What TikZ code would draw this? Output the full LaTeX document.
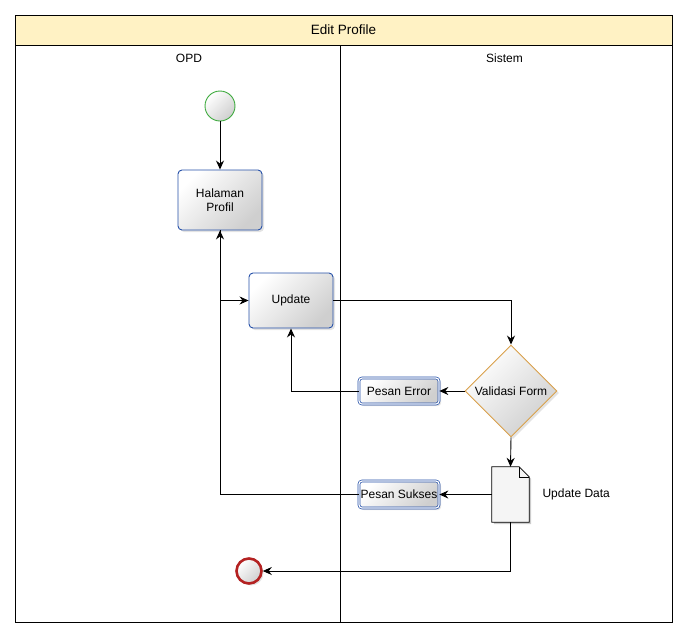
\documentclass[tikz,border=0pt]{standalone}
\usepackage{fontspec}
\setmainfont{Liberation Sans}
\usetikzlibrary{shapes.geometric,arrows.meta,shadows}

\definecolor{titlebg}{HTML}{FFF2C4}
\definecolor{taskblue}{HTML}{2550A8}
\definecolor{gatewayorange}{HTML}{D9A04A}
\definecolor{startgreen}{HTML}{3DAA3D}
\definecolor{endred}{HTML}{B42222}

\tikzset{
  softshadow/.style={drop shadow={opacity=0.22, shadow xshift=2pt, shadow yshift=-2pt}},
  shaded/.style={top color=white, bottom color=black!19, shading angle=45},
  nodefont/.style={font=\fontsize{12}{14}\selectfont},
  task/.style={rectangle, rounded corners=4pt, draw=taskblue, line width=0.9pt,
    shaded, softshadow, align=center, nodefont, inner sep=0pt},
  msg/.style={rectangle, rounded corners=3pt, draw=taskblue, line width=0.7pt,
    double=white, double distance=1.2pt, shaded, softshadow, nodefont, inner sep=0pt},
  gateway/.style={diamond, aspect=1, draw=gatewayorange, line width=0.9pt,
    shaded, softshadow, inner sep=0pt, minimum size=92pt, nodefont},
  startev/.style={circle, draw=startgreen, line width=0.9pt, shaded, minimum size=30pt, inner sep=0pt},
  endev/.style={circle, draw=endred, line width=2.6pt, shaded, softshadow, minimum size=25pt, inner sep=0pt},
  flow/.style={draw=black, line width=0.9pt, -{Stealth[length=9pt, width=8pt, inset=3pt]}},
  lanelabel/.style={font=\fontsize{12}{14}\selectfont}
}

\begin{document}
\begin{tikzpicture}[x=1pt, y=-1pt]
  \useasboundingbox (0,0) rectangle (689,638);

  % pool with title bar and two lanes
  \fill[titlebg] (15,15) rectangle (672,45);
  \draw[line width=0.8pt] (15,15) rectangle (672,622);
  \draw[line width=0.8pt] (15,45) -- (672,45);
  \draw[line width=0.8pt] (340,45) -- (340,622);
  \node[font=\fontsize{13.5}{15}\selectfont] (pooltitle) at (343.5,30) {Edit Profile};
  \node[lanelabel] (laneopd) at (189,58) {OPD};
  \node[lanelabel] (lanesys) at (504.5,58) {Sistem};

  % events, tasks and gateway
  \node[startev] (start) at (220,106) {};
  \node[task, minimum width=84pt, minimum height=60pt] (halaman) at (220,200) {Halaman\\Profil};
  \node[task, minimum width=84pt, minimum height=55pt] (update) at (291,300.5) {Update};
  \node[gateway] (valid) at (511,391) {Validasi Form};
  \node[msg, minimum width=80pt, minimum height=26pt] (perr) at (399,391) {Pesan Error};
  \node[msg, minimum width=80pt, minimum height=27pt] (psuk) at (399,494.5) {Pesan Sukses};

  % data object (document with folded corner)
  \node[minimum width=37pt, minimum height=55pt, inner sep=0pt] (doc) at (510.5,494.5) {};
  \fill[black, opacity=0.2] ([xshift=2pt,yshift=-2pt]doc.north west) -- ([xshift=-8pt,yshift=-2pt]doc.north east)
    -- ([xshift=2pt,yshift=-12pt]doc.north east) -- ([xshift=2pt,yshift=-2pt]doc.south east)
    -- ([xshift=2pt,yshift=-2pt]doc.south west) -- cycle;
  \draw[fill=black!4, line width=0.8pt] (doc.north west) -- ([xshift=-10pt]doc.north east)
    -- ([yshift=-10pt]doc.north east) -- (doc.south east) -- (doc.south west) -- cycle;
  \draw[line width=0.6pt] ([xshift=-10pt]doc.north east) -- ([xshift=-10pt,yshift=-10pt]doc.north east)
    -- ([yshift=-10pt]doc.north east);
  \node[anchor=west, nodefont] (doclabel) at (539,494) {Update Data};

  \node[endev] (end) at (249,571) {};

  % sequence flows
  \draw[flow] (start) -- (halaman);
  \draw[flow] (halaman.south) |- (update.west);
  \draw[flow] (psuk.west) -| (halaman.south);
  \draw[flow] (update.east) -| (valid.north);
  \draw[flow] (valid.west) -- (perr.east);
  \draw[flow] (perr.west) -| (update.south);
  \draw[flow] (valid.south) -- (doc.north);
  \draw[flow] (doc.west) -- (psuk.east);
  \draw[flow] (doc.south) |- (end.east);
\end{tikzpicture}
\end{document}
